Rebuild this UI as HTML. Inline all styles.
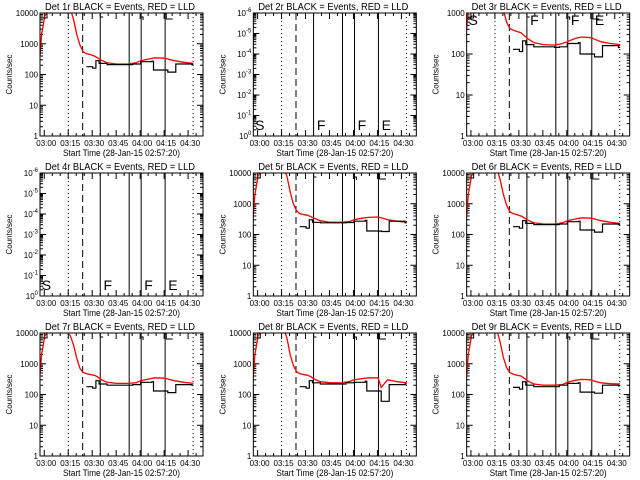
<!DOCTYPE html>
<html><head><meta charset="utf-8"><style>
html,body{margin:0;padding:0;background:#fff;}
svg{display:block;font-family:"Liberation Sans",sans-serif;}
</style></head><body>
<svg id="chart" width="640" height="480" viewBox="0 0 640 480" xmlns="http://www.w3.org/2000/svg"></svg>
<script>
// time in minutes since 02:57:20
const redT = [0,1,3,5,11,17,19,21,23,25,27,29,31,34,36,38,42,48,55,60,63,68,72,78,80,84,90,96];
const red1 = [400,2000,8000,12000,20000,20000,14000,6000,2000,900,550,480,450,400,350,300,240,220,220,240,280,320,350,340,320,280,250,230];
const red3 = [400,1500,5000,9000,15000,15000,9000,3000,1200,600,420,380,360,330,280,240,190,170,165,180,200,240,260,250,230,200,180,170];
const red5 = [450,2000,8000,12000,20000,20000,15000,8000,2500,1000,600,480,450,420,380,340,280,250,250,260,300,340,360,370,350,300,270,250];
const red7 = [450,2000,8000,12000,12000,11000,8000,4000,1500,700,520,480,450,420,380,310,250,230,230,240,280,320,350,340,320,280,250,230];
const red8 = [400,2000,8000,12000,20000,20000,14000,7000,2000,900,550,480,450,420,380,320,260,240,240,260,300,330,350,350,170,300,260,240];
const red9 = [400,2000,8000,12000,20000,20000,12000,5000,1600,750,520,460,430,400,340,280,220,200,200,210,250,290,310,300,270,240,225,220];
const blkT = [29,33,35,37,42,55,58,63,70,71,80,85,95];
const blk1 = [180,160,280,230,210,210,220,260,270,140,120,220,210];
const blk3 = [130,115,210,170,150,145,150,180,190,100,85,160,145];
const blk5 = [180,160,300,250,240,240,245,270,290,130,125,270,240];
const blk7 = [180,160,280,220,200,200,210,250,260,130,115,210,200];
const blk8 = [180,160,280,240,220,220,240,250,270,130,60,210,220];
const blk9 = [170,150,260,200,180,180,200,230,240,120,110,200,190];
const vlinesT = [17.7,26.7,37.7,55.8,63.3,78.3,95.8];
const vlineStyle = ['dot','dash','solid','solid','solid','solid','dot'];
const xTickLabels = ['03:00','03:15','03:30','03:45','04:00','04:15','04:30'];
const xTickT = [2.67,17.67,32.67,47.67,62.67,77.67,92.67];
const letters = ['S','F','F','E'];
const letterT = [0.5,38.5,64,79];

const panels = [
 {name:'Det 1r',lo:0,hi:4,red:red1,blk:blk1},
 {name:'Det 2r',lo:0,hi:6,neg:true},
 {name:'Det 3r',lo:0,hi:3,red:red3,blk:blk3,lettersTop:true},
 {name:'Det 4r',lo:0,hi:6,neg:true},
 {name:'Det 5r',lo:0,hi:4,red:red5,blk:blk5},
 {name:'Det 6r',lo:0,hi:4,red:red1,blk:blk1},
 {name:'Det 7r',lo:0,hi:4,red:red7,blk:blk7},
 {name:'Det 8r',lo:0,hi:4,red:red8,blk:blk8},
 {name:'Det 9r',lo:0,hi:4,red:red9,blk:blk9}
];
const NS='http://www.w3.org/2000/svg';
const svg=document.getElementById('chart');
function mk(tag,attrs,parent){const e=document.createElementNS(NS,tag);for(const k in attrs)e.setAttribute(k,attrs[k]);(parent||svg).appendChild(e);return e;}
const TMAX=102;
panels.forEach((p,i)=>{
  const col=i%3,row=Math.floor(i/3);
  const ox=col*213.33,oy=row*160;
  const L=ox+40,R=ox+203,T=oy+13,B=oy+136;
  const g=mk('g',{});
  
  
  const xs=t=>L+(t/TMAX)*(R-L);
  const ys=v=>B-(Math.log10(v)-p.lo)/(p.hi-p.lo)*(B-T);
  const tt=mk('text',{x:L+5,y:oy+10,'font-size':'10',fill:'#000',textLength:'150',lengthAdjust:'spacingAndGlyphs'},g);
  tt.textContent=p.name+' BLACK = Events, RED = LLD';
  
  
  for(let d=0;d<=p.hi-p.lo;d++){
    const y=B-d/(p.hi-p.lo)*(B-T);
    mk('line',{x1:L,x2:L+6,y1:y,y2:y,stroke:'#000'},g);
    mk('line',{x1:R,x2:R-6,y1:y,y2:y,stroke:'#000'},g);
    const lab=mk('text',{x:L-2,y:y+3,'font-size':'8','text-anchor':'end',fill:'#000'},g);
    if(p.neg){lab.innerHTML='10<tspan font-size="6" dy="-4">'+(d==0?'0':'-'+d)+'</tspan>';}
    else lab.textContent=String(Math.pow(10,d));
    
    
    if(d<p.hi-p.lo){for(let m=2;m<=9;m++){const yy=y-Math.log10(m)/(p.hi-p.lo)*(B-T);
      mk('line',{x1:L,x2:L+3,y1:yy,y2:yy,stroke:'#000'},g);mk('line',{x1:R,x2:R-3,y1:yy,y2:yy,stroke:'#000'},g);}}
  }
  xTickT.forEach((t,k)=>{const x=xs(t);
    mk('line',{x1:x,x2:x,y1:B,y2:B-6,stroke:'#000'},g);mk('line',{x1:x,x2:x,y1:T,y2:T+6,stroke:'#000'},g);
    const lab=mk('text',{x:x+2,y:B+10,'font-size':'8','text-anchor':'middle',fill:'#000'},g);
    lab.textContent=xTickLabels[k];
    
    
    for(let m=1;m<3;m++){const xm=xs(t+m*5);if(xm<R){mk('line',{x1:xm,x2:xm,y1:B,y2:B-3,stroke:'#000'},g);mk('line',{x1:xm,x2:xm,y1:T,y2:T+3,stroke:'#000'},g);}}
  });
  const xt=mk('text',{x:L+23,y:B+20,'font-size':'9',fill:'#000',textLength:'117',lengthAdjust:'spacingAndGlyphs'},g);
  xt.textContent='Start Time (28-Jan-15 02:57:20)';
  
  
  const yt=mk('text',{x:0,y:0,'font-size':'8','text-anchor':'middle',fill:'#000',transform:`translate(${ox+12},${(T+B)/2}) rotate(-90)`},g);
  yt.textContent='Counts/sec';
  
  
  const cid='c'+i;
  const cp=mk('clipPath',{id:cid},g);mk('rect',{x:L,y:T,width:R-L,height:B-T},cp);
  vlinesT.forEach((t,k)=>{const x=xs(t);
    const a={x1:x,x2:x,y1:T,y2:B,stroke:'#000','stroke-width':'1'};
    if(vlineStyle[k]=='dot')a['stroke-dasharray']='1,3';
    if(vlineStyle[k]=='dash')a['stroke-dasharray']='7,4';
    const l=mk('line',a,g);
    
    
  });
  if(p.red){
    const rd=redT.map((t,k)=>(k?'L':'M')+xs(t).toFixed(1)+','+ys(p.red[k]).toFixed(1)).join('');
    const rp=mk('path',{d:rd,fill:'none',stroke:'#f00','stroke-width':'1.3','clip-path':`url(#${cid})`},g);
    
    
    let bd='';
    blkT.forEach((t,k)=>{const x=xs(t),y=ys(p.blk[k]);
      if(k==0)bd+='M'+x.toFixed(1)+','+y.toFixed(1);
      else bd+='V'+y.toFixed(1);
      const nx=k<blkT.length-1?xs(blkT[k+1]):xs(96);bd+='H'+nx.toFixed(1);});
    const bp=mk('path',{d:bd,fill:'none',stroke:'#000','stroke-width':'1.2','clip-path':`url(#${cid})`},g);
    
    
    mk('path',{d:`M${L},${T+5}H${L+7}V${T}M${xs(37.7)},${T+4}H${xs(39.5)}M${xs(63.3)},${T+4}H${xs(64.5)}V${T+7}M${xs(79)},${T}V${T+6}H${xs(83)}`,fill:'none',stroke:'#000'},g);
  }
  if(p.neg||p.lettersTop){
    letters.forEach((c,k)=>{const x=xs(letterT[k])+(k==0?1:2);
      const lt=mk('text',{x:x,y:p.lettersTop?T+12:B-6,'font-size':'14',fill:'#000'},g);
      lt.textContent=c;
      
      });
  }
  const fr=mk('rect',{x:L,y:T,width:R-L,height:B-T,fill:'none',stroke:'#000','stroke-width':'1'},g);
  
  
});
</script>
</body></html>
